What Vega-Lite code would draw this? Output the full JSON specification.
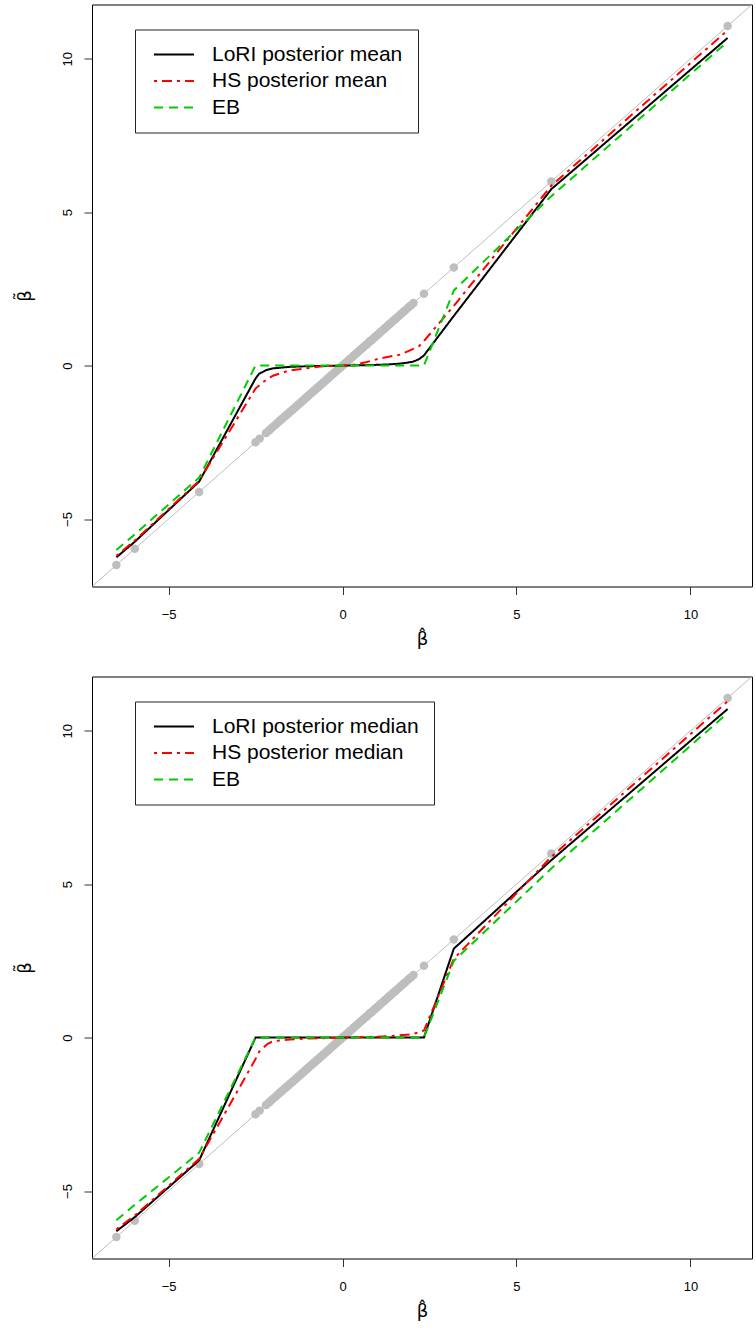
{
  "$schema": "https://vega.github.io/schema/vega-lite/v6.json",
  "background": "white",
  "padding": {"left": 15, "top": 3.5, "right": 2, "bottom": 5},
  "bounds": "flush",
  "spacing": 90,
  "config": {
    "font": "Liberation Sans",
    "view": {"stroke": "black", "strokeWidth": 1},
    "axis": {
      "grid": false, "domain": false, "tickColor": "#333", "tickSize": 8, "tickWidth": 1,
      "labelFont": "Liberation Sans", "labelFontSize": 13, "labelColor": "black",
      "titleFont": "DejaVu Sans", "titleFontSize": 18, "titleFontWeight": "normal", "titleColor": "black"
    },
    "axisX": {"labelPadding": 14, "titlePadding": 9},
    "axisY": {"labelAngle": -90, "labelAlign": "center", "labelBaseline": "alphabetic", "labelPadding": 13, "titlePadding": 27},
    "legend": {"title": null, "orient": "none", "legendX": 43, "legendY": 25, "strokeColor": "#222", "fillColor": "white", "padding": 15, "symbolType": "stroke", "symbolSize": 1600, "symbolStrokeWidth": 2, "symbolOffset": 3, "labelFont": "Liberation Sans", "labelFontSize": 21, "labelColor": "black", "labelOffset": 17, "rowPadding": 5.5, "clipHeight": 20, "labelLimit": 500}
  },
  "datasets": {
    "pts": [
      {"bhat": -6.5}, {"bhat": -5.97}, {"bhat": -4.12}, {"bhat": 3.2}, {"bhat": 6.0}, {"bhat": 11.07},
      {"bhat": -2.5}, {"bhat": -2.38}, {"bhat": -2.2}, {"bhat": -2.13}, {"bhat": -2.08}, {"bhat": -2.02},
      {"bhat": -1.96}, {"bhat": -1.9}, {"bhat": -1.85}, {"bhat": -1.8}, {"bhat": -1.76}, {"bhat": -1.72},
      {"bhat": -1.67}, {"bhat": -1.63}, {"bhat": -1.6}, {"bhat": -1.55}, {"bhat": -1.5}, {"bhat": -1.46},
      {"bhat": -1.42}, {"bhat": -1.38}, {"bhat": -1.33}, {"bhat": -1.3}, {"bhat": -1.25}, {"bhat": -1.2},
      {"bhat": -1.16}, {"bhat": -1.12}, {"bhat": -1.08}, {"bhat": -1.03}, {"bhat": -1.0}, {"bhat": -0.96},
      {"bhat": -0.92}, {"bhat": -0.87}, {"bhat": -0.83}, {"bhat": -0.8}, {"bhat": -0.75}, {"bhat": -0.71},
      {"bhat": -0.67}, {"bhat": -0.63}, {"bhat": -0.58}, {"bhat": -0.55}, {"bhat": -0.5}, {"bhat": -0.46},
      {"bhat": -0.42}, {"bhat": -0.38}, {"bhat": -0.33}, {"bhat": -0.3}, {"bhat": -0.25}, {"bhat": -0.21},
      {"bhat": -0.17}, {"bhat": -0.13}, {"bhat": -0.08}, {"bhat": -0.05}, {"bhat": 0.0}, {"bhat": 0.04},
      {"bhat": 0.08}, {"bhat": 0.12}, {"bhat": 0.17}, {"bhat": 0.2}, {"bhat": 0.25}, {"bhat": 0.29},
      {"bhat": 0.33}, {"bhat": 0.37}, {"bhat": 0.42}, {"bhat": 0.45}, {"bhat": 0.5}, {"bhat": 0.54},
      {"bhat": 0.58}, {"bhat": 0.62}, {"bhat": 0.67}, {"bhat": 0.7}, {"bhat": 0.75}, {"bhat": 0.79},
      {"bhat": 0.83}, {"bhat": 0.87}, {"bhat": 0.92}, {"bhat": 0.95}, {"bhat": 1.0}, {"bhat": 1.04},
      {"bhat": 1.08}, {"bhat": 1.12}, {"bhat": 1.17}, {"bhat": 1.2}, {"bhat": 1.25}, {"bhat": 1.3},
      {"bhat": 1.34}, {"bhat": 1.38}, {"bhat": 1.43}, {"bhat": 1.48}, {"bhat": 1.52}, {"bhat": 1.57},
      {"bhat": 1.62}, {"bhat": 1.67}, {"bhat": 1.72}, {"bhat": 1.77}, {"bhat": 1.82}, {"bhat": 1.9},
      {"bhat": 1.97}, {"bhat": 2.04}, {"bhat": 2.34}
    ],
    "diag": [{"bhat": -7.2, "est": -7.2}, {"bhat": 11.77, "est": 11.77}],
    "mean": [
      {"series": "LoRI posterior mean", "bhat": -6.5, "est": -6.25},
      {"series": "LoRI posterior mean", "bhat": -5.97, "est": -5.74},
      {"series": "LoRI posterior mean", "bhat": -4.12, "est": -3.78},
      {"series": "LoRI posterior mean", "bhat": -2.5, "est": -0.42},
      {"series": "LoRI posterior mean", "bhat": -2.4, "est": -0.27},
      {"series": "LoRI posterior mean", "bhat": -2.2, "est": -0.15},
      {"series": "LoRI posterior mean", "bhat": -2.0, "est": -0.09},
      {"series": "LoRI posterior mean", "bhat": -1.5, "est": -0.04},
      {"series": "LoRI posterior mean", "bhat": -1.0, "est": -0.02},
      {"series": "LoRI posterior mean", "bhat": -0.5, "est": -0.01},
      {"series": "LoRI posterior mean", "bhat": 0.0, "est": 0.0},
      {"series": "LoRI posterior mean", "bhat": 0.5, "est": 0.01},
      {"series": "LoRI posterior mean", "bhat": 1.0, "est": 0.025},
      {"series": "LoRI posterior mean", "bhat": 1.34, "est": 0.04},
      {"series": "LoRI posterior mean", "bhat": 1.6, "est": 0.06},
      {"series": "LoRI posterior mean", "bhat": 1.82, "est": 0.09},
      {"series": "LoRI posterior mean", "bhat": 2.0, "est": 0.12},
      {"series": "LoRI posterior mean", "bhat": 2.1, "est": 0.16},
      {"series": "LoRI posterior mean", "bhat": 2.2, "est": 0.21},
      {"series": "LoRI posterior mean", "bhat": 2.34, "est": 0.33},
      {"series": "LoRI posterior mean", "bhat": 3.2, "est": 1.62},
      {"series": "LoRI posterior mean", "bhat": 6.0, "est": 5.75},
      {"series": "LoRI posterior mean", "bhat": 11.07, "est": 10.68},
      {"series": "HS posterior mean", "bhat": -6.5, "est": -6.2},
      {"series": "HS posterior mean", "bhat": -5.97, "est": -5.7},
      {"series": "HS posterior mean", "bhat": -4.12, "est": -3.75},
      {"series": "HS posterior mean", "bhat": -2.5, "est": -0.75},
      {"series": "HS posterior mean", "bhat": -2.35, "est": -0.6},
      {"series": "HS posterior mean", "bhat": -2.2, "est": -0.47},
      {"series": "HS posterior mean", "bhat": -2.0, "est": -0.33},
      {"series": "HS posterior mean", "bhat": -1.53, "est": -0.16},
      {"series": "HS posterior mean", "bhat": -1.05, "est": -0.09},
      {"series": "HS posterior mean", "bhat": -0.57, "est": -0.02},
      {"series": "HS posterior mean", "bhat": 0.0, "est": 0.0},
      {"series": "HS posterior mean", "bhat": 0.33, "est": 0.03},
      {"series": "HS posterior mean", "bhat": 0.67, "est": 0.11},
      {"series": "HS posterior mean", "bhat": 1.1, "est": 0.24},
      {"series": "HS posterior mean", "bhat": 1.67, "est": 0.36},
      {"series": "HS posterior mean", "bhat": 2.2, "est": 0.63},
      {"series": "HS posterior mean", "bhat": 2.34, "est": 0.8},
      {"series": "HS posterior mean", "bhat": 3.2, "est": 1.95},
      {"series": "HS posterior mean", "bhat": 6.0, "est": 5.86},
      {"series": "HS posterior mean", "bhat": 11.07, "est": 10.93},
      {"series": "EB", "bhat": -6.5, "est": -6.01},
      {"series": "EB", "bhat": -5.97, "est": -5.5},
      {"series": "EB", "bhat": -4.12, "est": -3.65},
      {"series": "EB", "bhat": -2.5, "est": 0.0},
      {"series": "EB", "bhat": 2.34, "est": 0.0},
      {"series": "EB", "bhat": 3.2, "est": 2.45},
      {"series": "EB", "bhat": 6.0, "est": 5.52},
      {"series": "EB", "bhat": 11.07, "est": 10.56}
    ],
    "median": [
      {"series": "LoRI posterior median", "bhat": -6.5, "est": -6.31},
      {"series": "LoRI posterior median", "bhat": -5.97, "est": -5.85},
      {"series": "LoRI posterior median", "bhat": -4.12, "est": -4.0},
      {"series": "LoRI posterior median", "bhat": -2.5, "est": 0.0},
      {"series": "LoRI posterior median", "bhat": 2.34, "est": 0.0},
      {"series": "LoRI posterior median", "bhat": 3.2, "est": 2.9},
      {"series": "LoRI posterior median", "bhat": 6.0, "est": 5.78},
      {"series": "LoRI posterior median", "bhat": 11.07, "est": 10.71},
      {"series": "HS posterior median", "bhat": -6.5, "est": -6.25},
      {"series": "HS posterior median", "bhat": -5.97, "est": -5.8},
      {"series": "HS posterior median", "bhat": -4.12, "est": -3.95},
      {"series": "HS posterior median", "bhat": -2.5, "est": -0.7},
      {"series": "HS posterior median", "bhat": -2.39, "est": -0.45},
      {"series": "HS posterior median", "bhat": -2.15, "est": -0.2},
      {"series": "HS posterior median", "bhat": -2.0, "est": -0.12},
      {"series": "HS posterior median", "bhat": -1.5, "est": -0.06},
      {"series": "HS posterior median", "bhat": -1.0, "est": -0.03},
      {"series": "HS posterior median", "bhat": 0.0, "est": 0.0},
      {"series": "HS posterior median", "bhat": 1.0, "est": 0.03},
      {"series": "HS posterior median", "bhat": 1.5, "est": 0.06},
      {"series": "HS posterior median", "bhat": 2.0, "est": 0.11},
      {"series": "HS posterior median", "bhat": 2.2, "est": 0.17},
      {"series": "HS posterior median", "bhat": 2.34, "est": 0.23},
      {"series": "HS posterior median", "bhat": 3.2, "est": 2.57},
      {"series": "HS posterior median", "bhat": 6.0, "est": 5.89},
      {"series": "HS posterior median", "bhat": 11.07, "est": 10.96},
      {"series": "EB", "bhat": -6.5, "est": -5.95},
      {"series": "EB", "bhat": -5.97, "est": -5.45},
      {"series": "EB", "bhat": -4.12, "est": -3.75},
      {"series": "EB", "bhat": -2.5, "est": 0.0},
      {"series": "EB", "bhat": 2.34, "est": 0.0},
      {"series": "EB", "bhat": 3.2, "est": 2.5},
      {"series": "EB", "bhat": 6.0, "est": 5.51},
      {"series": "EB", "bhat": 11.07, "est": 10.58}
    ]
  },
  "resolve": {"scale": {"color": "independent", "strokeDash": "independent"}},
  "vconcat": [
    {
      "width": 660, "height": 582,
      "layer": [
        {
          "data": {"name": "diag"},
          "mark": {"type": "line", "color": "#BEBEBE", "strokeWidth": 1, "clip": true},
          "encoding": {
            "x": {"field": "bhat", "type": "quantitative", "scale": {"domain": [-7.2, 11.77], "nice": false, "zero": false}, "axis": {"values": [-5, 0, 5, 10], "title": "β̂"}},
            "y": {"field": "est", "type": "quantitative", "scale": {"domain": [-7.2, 11.77], "nice": false, "zero": false}, "axis": {"values": [-5, 0, 5, 10], "title": "β̃"}}
          }
        },
        {
          "mark": {"type": "rule", "color": "#444", "strokeWidth": 1.2, "strokeDash": [1.5, 2.5]},
          "encoding": {"y": {"datum": 0, "type": "quantitative"}}
        },
        {
          "data": {"name": "pts"},
          "mark": {"type": "circle", "color": "#BEBEBE", "opacity": 1, "size": 72},
          "encoding": {
            "x": {"field": "bhat", "type": "quantitative"},
            "y": {"field": "bhat", "type": "quantitative"}
          }
        },
        {
          "data": {"name": "mean"},
          "mark": {"type": "line", "strokeWidth": 2},
          "encoding": {
            "x": {"field": "bhat", "type": "quantitative"},
            "y": {"field": "est", "type": "quantitative"},
            "color": {
              "field": "series", "type": "nominal",
              "scale": {"domain": ["LoRI posterior mean", "HS posterior mean", "EB"], "range": ["#000000", "#FF0000", "#00CD00"]}
            },
            "strokeDash": {
              "field": "series", "type": "nominal",
              "scale": {"domain": ["LoRI posterior mean", "HS posterior mean", "EB"], "range": [[1, 0], [3, 5, 10, 5], [9, 6]]}
            }
          }
        }
      ]
    },
    {
      "width": 660, "height": 582,
      "layer": [
        {
          "data": {"name": "diag"},
          "mark": {"type": "line", "color": "#BEBEBE", "strokeWidth": 1, "clip": true},
          "encoding": {
            "x": {"field": "bhat", "type": "quantitative", "scale": {"domain": [-7.2, 11.77], "nice": false, "zero": false}, "axis": {"values": [-5, 0, 5, 10], "title": "β̂"}},
            "y": {"field": "est", "type": "quantitative", "scale": {"domain": [-7.2, 11.77], "nice": false, "zero": false}, "axis": {"values": [-5, 0, 5, 10], "title": "β̃"}}
          }
        },
        {
          "mark": {"type": "rule", "color": "#444", "strokeWidth": 1.2, "strokeDash": [1.5, 2.5]},
          "encoding": {"y": {"datum": 0, "type": "quantitative"}}
        },
        {
          "data": {"name": "pts"},
          "mark": {"type": "circle", "color": "#BEBEBE", "opacity": 1, "size": 72},
          "encoding": {
            "x": {"field": "bhat", "type": "quantitative"},
            "y": {"field": "bhat", "type": "quantitative"}
          }
        },
        {
          "data": {"name": "median"},
          "mark": {"type": "line", "strokeWidth": 2},
          "encoding": {
            "x": {"field": "bhat", "type": "quantitative"},
            "y": {"field": "est", "type": "quantitative"},
            "color": {
              "field": "series", "type": "nominal",
              "scale": {"domain": ["LoRI posterior median", "HS posterior median", "EB"], "range": ["#000000", "#FF0000", "#00CD00"]}
            },
            "strokeDash": {
              "field": "series", "type": "nominal",
              "scale": {"domain": ["LoRI posterior median", "HS posterior median", "EB"], "range": [[1, 0], [3, 5, 10, 5], [9, 6]]}
            }
          }
        }
      ]
    }
  ]
}
